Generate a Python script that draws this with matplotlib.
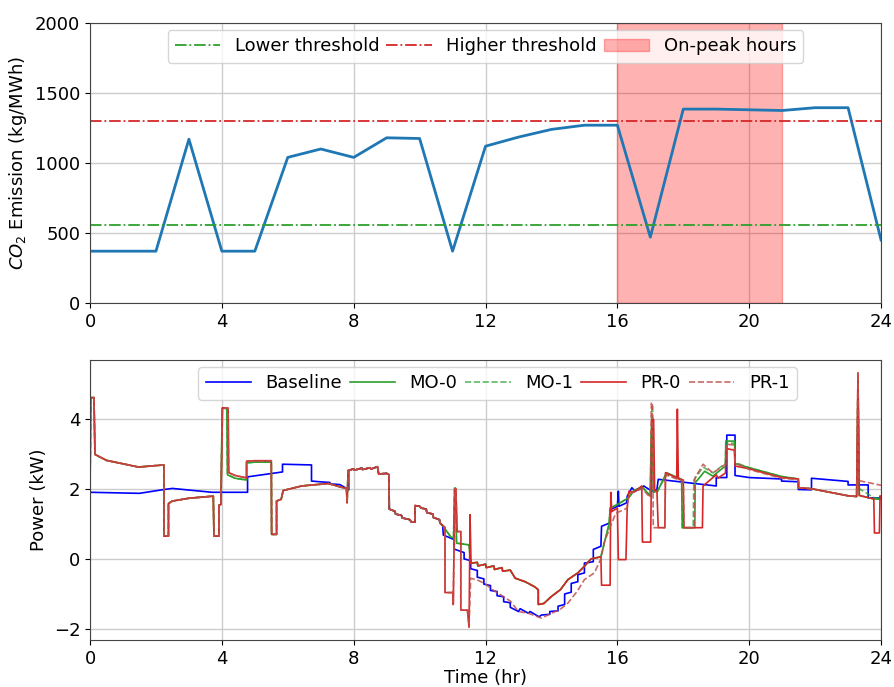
import matplotlib
matplotlib.use("Agg")
import matplotlib.pyplot as plt
import numpy as np

# ---------------- data: top panel (hourly CO2 intensity) ----------------
hours = list(range(25))
co2 = [370, 370, 370, 1170, 370, 370, 1040, 1100, 1040, 1180, 1175, 370, 1120,
       1185, 1240, 1270, 1270, 470, 1385, 1385, 1380, 1375, 1395, 1395, 450]
lower_thr = 560
higher_thr = 1300
peak_start, peak_end = 16, 21

# ---------------- data: bottom panel (power profiles, kW) ----------------
# Baseline
t_base = [0.00, 0.50, 1.50, 2.25, 2.50, 3.70, 4.78, 4.78, 5.84, 5.84, 6.72, 6.72,
          6.97, 7.28, 7.28, 7.58, 7.80, 7.85, 7.85]
p_base = [1.90, 1.89, 1.87, 1.98, 2.01, 1.90, 1.90, 2.34, 2.48, 2.70, 2.68, 2.22,
          2.20, 2.18, 2.14, 2.12, 2.00, 1.97, 2.52]

# shared saw-tooth section (all profiles) 8 h - 10.7 h
t_mid = [8.00, 8.02, 8.25, 8.27, 8.50, 8.52, 8.72, 8.76, 9.00, 9.07, 9.08, 9.25,
         9.27, 9.45, 9.47, 9.70, 9.75, 9.86, 9.86, 10.00, 10.05, 10.20, 10.22,
         10.40, 10.42, 10.60, 10.62, 10.70]
p_mid = [2.57, 2.53, 2.59, 2.55, 2.60, 2.56, 2.63, 2.42, 2.44, 2.40, 1.42, 1.36,
         1.28, 1.24, 1.17, 1.12, 1.05, 1.05, 1.52, 1.50, 1.45, 1.42, 1.32,
         1.28, 1.18, 1.12, 1.02, 0.95]

t_base_tail = [10.72, 11.05, 11.05, 11.35, 11.35, 11.55, 11.55, 11.75, 11.75,
               11.95, 11.95, 12.15, 12.15, 12.35, 12.35, 12.55, 12.55, 12.75,
               12.75, 13.00, 13.05, 13.30, 13.35, 13.62, 13.70, 13.95, 13.95,
               14.20, 14.20, 14.40, 14.40, 14.60, 14.60, 14.80, 14.80, 15.00,
               15.00, 15.27, 15.27, 15.50, 15.52, 15.78, 15.78, 16.00, 16.03,
               16.05, 16.28, 16.30, 16.44, 16.54, 16.80, 17.05, 17.20, 17.24,
               19.00, 19.00, 19.32, 19.32, 19.57, 19.57, 20.00, 20.98, 20.98,
               21.49, 21.49, 21.89, 21.89, 23.00, 23.00, 23.61, 23.61, 24.00]
p_base_tail = [0.68, 0.55, 0.28, 0.18, 0.00, -0.05, -0.28, -0.33, -0.52,
               -0.57, -0.72, -0.76, -0.90, -0.93, -1.05, -1.08, -1.22, -1.25,
               -1.38, -1.50, -1.42, -1.55, -1.50, -1.65, -1.60, -1.58, -1.50,
               -1.48, -1.35, -1.30, -1.00, -0.95, -0.70, -0.65, -0.45, -0.40,
               -0.12, -0.08, 0.27, 0.36, 0.93, 1.03, 1.40, 1.50, 1.93,
               1.50, 1.60, 1.79, 2.03, 1.93, 2.08, 1.93, 1.98, 2.27,
               2.08, 2.32, 2.32, 3.53, 3.53, 2.38, 2.32, 2.28, 2.22,
               2.20, 1.98, 1.97, 2.30, 2.21, 2.11, 2.11, 1.74, 1.74]

# controlled profiles: early part (shared) 0 h - 4 h
t_ctrl_a = [0.00, 0.02, 0.12, 0.15, 0.50, 1.47, 2.24, 2.24, 2.38, 2.38, 2.50,
            3.00, 3.74, 3.76, 3.91, 3.91, 3.97]
p_ctrl_a = [1.90, 4.60, 4.60, 2.98, 2.81, 2.62, 2.68, 0.65, 0.65, 1.58, 1.65,
            1.73, 1.79, 0.65, 0.65, 1.53, 1.55]

# 4 h - 5.5 h (PR and MO slightly different)
t_pr_b = [4.02, 4.19, 4.21, 4.40, 4.75, 4.75, 5.00, 5.50]
p_pr_b = [4.31, 4.30, 2.46, 2.38, 2.31, 2.79, 2.80, 2.80]
t_mo_b = [4.01, 4.15, 4.17, 4.40, 4.75, 4.75, 5.00, 5.50]
p_mo_b = [4.30, 4.29, 2.40, 2.30, 2.25, 2.74, 2.76, 2.76]

# 5.5 h - 7.85 h (shared)
t_ctrl_c = [5.51, 5.66, 5.66, 5.80, 5.86, 6.42, 7.23, 7.68, 7.78, 7.80, 7.83]
p_ctrl_c = [0.70, 0.70, 1.65, 1.70, 1.95, 2.08, 2.15, 2.03, 2.02, 1.60, 2.52]

# Price-responsive, deterministic (PR-0)
t_pr0_tail = [10.77, 10.77, 11.02, 11.02, 11.07, 11.10, 11.14, 11.25, 11.25,
              11.45, 11.50, 11.53, 11.56, 11.75, 11.77, 12.00, 12.02, 12.25,
              12.27, 12.50, 12.52, 12.75, 12.90, 13.20, 13.50, 13.60, 13.60,
              13.77, 14.00, 14.27, 14.50, 14.80, 15.00, 15.20, 15.50, 15.52,
              15.78, 15.80, 15.83, 16.00, 16.03, 16.26, 16.30, 16.35, 16.50,
              16.74, 16.76, 17.01, 17.05, 17.10, 17.13, 17.20, 17.24, 17.44,
              17.46, 17.80, 17.82, 17.85, 18.00, 18.02, 18.58, 18.60, 19.00,
              19.05, 19.28, 19.30, 19.55, 19.57, 20.00, 20.98, 21.49, 21.50,
              21.90, 23.00, 23.26, 23.30, 23.34, 23.78, 23.80, 23.95, 23.97,
              24.00]
p_pr0_tail = [0.90, -0.96, -0.96, -1.30, 2.00, 2.00, 0.78, 0.78, -1.46,
              -1.46, -1.95, 1.26, -0.12, -0.10, -0.20, -0.15, -0.25, -0.20,
              -0.30, -0.25, -0.35, -0.32, -0.55, -0.65, -0.80, -0.88, -1.30,
              -1.27, -1.07, -0.88, -0.59, -0.40, -0.21, 0.00, 0.06, -0.75,
              -0.75, 1.90, 1.35, 1.45, -0.02, -0.02, 1.50, 1.93, 1.90,
              2.08, 0.48, 0.48, 3.98, 3.98, 1.95, 1.95, 0.89, 0.89,
              2.46, 2.31, 4.27, 2.28, 2.25, 0.89, 0.89, 2.08, 2.40,
              2.30, 2.45, 3.15, 3.10, 2.65, 2.57, 2.32, 2.28, 2.03,
              2.00, 1.80, 1.78, 5.31, 1.81, 1.71, 0.74, 0.74, 1.80,
              1.75]

# Price-responsive, stochastic (PR-1)
t_pr1_tail = [10.77, 10.77, 11.02, 11.02, 11.07, 11.10, 11.14, 11.25, 11.25,
              11.45, 11.50, 11.55, 11.80, 12.00, 12.25, 12.50, 12.75, 13.00,
              13.30, 13.70, 14.00, 14.25, 14.50, 14.80, 15.00, 15.30, 15.50,
              15.60, 15.80, 15.95, 16.30, 16.35, 16.75, 17.00, 17.03, 17.06,
              17.09, 17.44, 17.46, 17.80, 18.00, 18.02, 18.33, 18.35, 18.60,
              18.90, 19.28, 19.30, 19.55, 19.57, 20.00, 20.98, 21.49, 21.50,
              21.90, 23.00, 23.26, 23.30, 23.34, 24.00]
p_pr1_tail = [0.90, -0.96, -0.96, -1.30, 2.00, 2.00, 0.78, 0.78, -1.46,
              -1.46, -1.90, -0.55, -0.62, -0.72, -0.90, -1.05, -1.20, -1.50,
              -1.55, -1.69, -1.55, -1.45, -1.26, -0.90, -0.59, -0.40, 0.00,
              0.47, 0.95, 1.30, 1.45, 1.85, 2.00, 1.75, 4.46, 4.46,
              0.89, 0.89, 2.40, 2.28, 2.22, 0.89, 0.89, 2.30, 2.70,
              2.45, 2.70, 3.27, 3.25, 2.75, 2.55, 2.30, 2.26, 2.03,
              2.00, 1.80, 1.78, 5.31, 2.23, 2.10]

# Multi-objective, deterministic (MO-0)
t_mo0_tail = [10.95, 11.03, 11.06, 11.09, 11.12, 11.50, 11.55, 11.75, 11.77,
              12.00, 12.02, 12.25, 12.27, 12.50, 12.52, 12.75, 12.90, 13.20,
              13.50, 13.60, 13.60, 13.77, 14.00, 14.27, 14.50, 14.80, 15.00,
              15.20, 15.50, 15.75, 15.78, 16.00, 16.35, 16.50, 16.75, 17.00,
              17.03, 17.06, 17.09, 17.22, 17.49, 17.95, 17.97, 18.35, 18.36,
              18.65, 18.90, 19.21, 19.28, 19.29, 19.56, 19.57, 20.00, 20.98,
              21.49, 21.50, 21.90, 23.00, 23.26, 23.30, 23.34, 23.78, 24.00]
p_mo0_tail = [0.62, 0.60, 2.02, 2.02, 0.45, 0.40, -0.12, -0.10, -0.20,
              -0.15, -0.25, -0.20, -0.30, -0.25, -0.35, -0.32, -0.55, -0.65,
              -0.80, -0.88, -1.30, -1.27, -1.07, -0.88, -0.59, -0.40, -0.21,
              0.00, 0.06, 1.00, 1.45, 1.55, 1.75, 1.95, 2.05, 1.80,
              3.60, 3.90, 1.90, 1.93, 2.46, 2.27, 0.89, 0.89, 2.17,
              2.50, 2.36, 2.60, 2.62, 3.36, 3.36, 2.72, 2.60, 2.35,
              2.28, 2.03, 2.00, 1.80, 1.78, 4.90, 1.81, 1.71, 1.70]

# Multi-objective, stochastic (MO-1)
t_mo1_tail = [10.95, 11.03, 11.06, 11.09, 11.12, 11.50, 11.55, 11.75, 11.77,
              12.00, 12.02, 12.25, 12.27, 12.50, 12.52, 12.75, 12.90, 13.20,
              13.50, 13.60, 13.60, 13.77, 14.00, 14.27, 14.50, 14.80, 15.00,
              15.20, 15.50, 15.75, 15.78, 16.00, 16.35, 16.50, 16.75, 17.00,
              17.04, 17.07, 17.10, 17.22, 17.49, 17.95, 17.97, 18.30, 18.32,
              18.60, 18.90, 19.21, 19.28, 19.29, 19.56, 19.57, 20.00, 20.98,
              21.49, 21.50, 21.90, 23.00, 23.26, 23.30, 23.34, 23.78, 24.00]
p_mo1_tail = [0.62, 0.60, 2.00, 2.00, 0.45, 0.40, -0.12, -0.10, -0.20,
              -0.15, -0.25, -0.20, -0.30, -0.25, -0.35, -0.32, -0.55, -0.65,
              -0.80, -0.88, -1.30, -1.27, -1.07, -0.88, -0.59, -0.40, -0.21,
              0.00, 0.06, 1.00, 1.45, 1.55, 1.75, 1.95, 2.05, 1.80,
              4.20, 4.40, 1.90, 1.93, 2.40, 2.25, 0.89, 0.89, 2.25,
              2.62, 2.45, 2.68, 2.70, 3.30, 3.30, 2.75, 2.60, 2.35,
              2.28, 2.03, 2.00, 1.80, 1.78, 5.10, 2.00, 1.75, 1.72]

labels = ["Baseline", "MO-0", "MO-1", "PR-0", "PR-1"]

# ---------------- assemble series ----------------
def cat(*parts):
    return np.concatenate([np.asarray(p, dtype=float) for p in parts])

series = {
    "Baseline": (cat(t_base, t_mid, t_base_tail), cat(p_base, p_mid, p_base_tail)),
    "MO-0": (cat(t_ctrl_a, t_mo_b, t_ctrl_c, t_mid, t_mo0_tail),
             cat(p_ctrl_a, p_mo_b, p_ctrl_c, p_mid, p_mo0_tail)),
    "MO-1": (cat(t_ctrl_a, t_mo_b, t_ctrl_c, t_mid, t_mo1_tail),
             cat(p_ctrl_a, p_mo_b, p_ctrl_c, p_mid, p_mo1_tail)),
    "PR-0": (cat(t_ctrl_a, t_pr_b, t_ctrl_c, t_mid, t_pr0_tail),
             cat(p_ctrl_a, p_pr_b, p_ctrl_c, p_mid, p_pr0_tail)),
    "PR-1": (cat(t_ctrl_a, t_pr_b, t_ctrl_c, t_mid, t_pr1_tail),
             cat(p_ctrl_a, p_pr_b, p_ctrl_c, p_mid, p_pr1_tail)),
}
styles = {
    "Baseline": dict(color="blue", ls="-", lw=1.2),
    "MO-0": dict(color="tab:green", ls="-", lw=1.2),
    "MO-1": dict(color="tab:green", ls="--", lw=1.2, alpha=0.75),
    "PR-0": dict(color="tab:red", ls="-", lw=1.2),
    "PR-1": dict(color="#c0504d", ls="--", lw=1.2, alpha=0.85),
}

# ---------------- figure ----------------
plt.rcParams["font.family"] = ["DejaVu Sans"]
fig = plt.figure(figsize=(8.94, 6.87), dpi=100)
ax1 = fig.add_axes([0.1007, 0.559, 0.8848, 0.4075])
ax2 = fig.add_axes([0.1007, 0.0684, 0.8848, 0.4076])

fs = 13
# top
ax1.plot(hours, co2, color="tab:blue", lw=2)
ax1.axhline(lower_thr, color="tab:green", ls="-.", lw=1.3, label="Lower threshold")
ax1.axhline(higher_thr, color="tab:red", ls="-.", lw=1.3, label="Higher threshold")
ax1.axvspan(peak_start, peak_end, color="red", alpha=0.3, label="On-peak hours")
ax1.set_xlim(0, 24)
ax1.set_ylim(0, 2000)
ax1.set_xticks(range(0, 25, 4))
ax1.set_yticks([0, 500, 1000, 1500, 2000])
ax1.set_ylabel("$CO_2$ Emission (kg/MWh)", fontsize=fs)
ax1.grid(True, color="#cccccc", lw=1)
ax1.set_axisbelow(True)
ax1.tick_params(labelsize=fs)
ax1.legend(loc="upper center", ncol=3, fontsize=13, handlelength=2.5,
           columnspacing=0.4, borderaxespad=0.4)

# bottom
for name in labels:
    t, p = series[name]
    ax2.plot(t, p, label=name, **styles[name])
ax2.set_xlim(0, 24)
ax2.set_xticks(range(0, 25, 4))
ax2.set_yticks([-2, 0, 2, 4])
ax2.set_xlabel("Time (hr)", fontsize=fs, labelpad=1)
ax2.set_ylabel("Power (kW)", fontsize=fs)
ax2.grid(True, color="#cccccc", lw=1)
ax2.set_axisbelow(True)
ax2.tick_params(labelsize=fs)
ax2.legend(loc="upper center", bbox_to_anchor=(0.515, 1.0), ncol=5,
           fontsize=13, handlelength=2.5, columnspacing=0.45,
           borderaxespad=0.4)

for ax in (ax1, ax2):
    for s in ax.spines.values():
        s.set_color("#444444")

fig.savefig("out.png", dpi=100)
